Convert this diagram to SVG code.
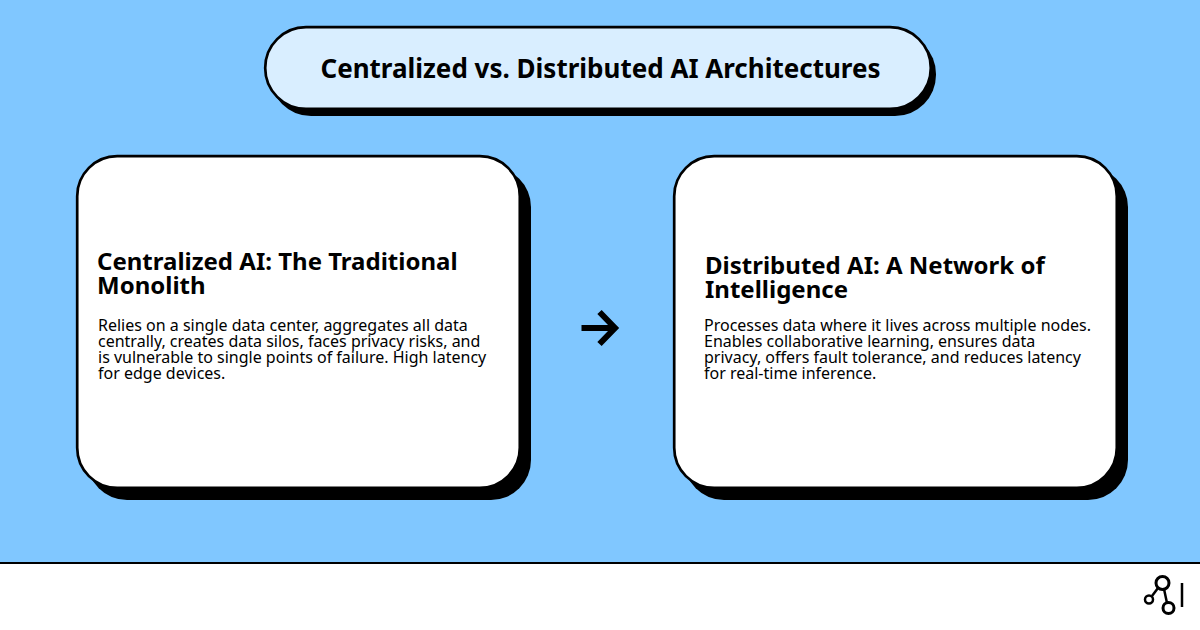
<svg xmlns="http://www.w3.org/2000/svg" width="1200" height="630" viewBox="0 0 1200 630">
<style>
.t{font-family:"Noto Sans",sans-serif;fill:#000}
.h{font-size:24px;font-weight:700}
.b{font-size:16px}
.s{fill:#000}
.c{fill:#fff;stroke:#000;stroke-width:2.700}
</style>
<rect width="1200" height="630" fill="#80c7ff"/>
<g id="footer"><rect y="563" width="1200" height="67" fill="#fff"/><rect y="562" width="1200" height="2" fill="#000"/></g>
<g id="title">
<rect class="s" x="270" y="33" width="666" height="83" rx="41"/>
<rect x="265.200" y="27.200" width="665.600" height="81.600" rx="40.800" fill="#d9eeff" stroke="#000" stroke-width="2.700"/>
<text class="t" x="600.500" y="78" text-anchor="middle" font-size="26" font-weight="700">Centralized vs. Distributed AI Architectures</text>
</g>
<g id="left-card">
<rect class="s" x="87" y="167" width="444" height="333" rx="40"/>
<rect class="c" x="77.200" y="156.200" width="442.600" height="331.600" rx="40"/>
<text class="t h" x="97" y="270">Centralized AI: The Traditional</text>
<text class="t h" x="97" y="294">Monolith</text>
<text class="t b" x="98" y="331">Relies on a single data center, aggregates all data</text>
<text class="t b" x="98" y="347">centrally, creates data silos, faces privacy risks, and</text>
<text class="t b" x="98" y="363">is vulnerable to single points of failure. High latency</text>
<text class="t b" x="98" y="379">for edge devices.</text>
</g>
<g id="right-card">
<rect class="s" x="684" y="167" width="444" height="333" rx="40"/>
<rect class="c" x="674.200" y="156.200" width="442.600" height="331.600" rx="40"/>
<text class="t h" x="705" y="274">Distributed AI: A Network of</text>
<text class="t h" x="705" y="298">Intelligence</text>
<text class="t b" x="704" y="331">Processes data where it lives across multiple nodes.</text>
<text class="t b" x="704" y="347">Enables collaborative learning, ensures data</text>
<text class="t b" x="704" y="363">privacy, offers fault tolerance, and reduces latency</text>
<text class="t b" x="704" y="379">for real-time inference.</text>
</g>
<g id="connectors" fill="none" stroke="#000">
<path d="M581.500 328H614" stroke-width="6"/>
<path d="M599.500 312L615 328L599.500 344" stroke-width="6"/>
</g>
<g id="logo" fill="none" stroke="#000">
<circle cx="1162.500" cy="583" r="6.500" stroke-width="3"/>
<circle cx="1168.500" cy="608" r="5.500" stroke-width="3"/>
<circle cx="1149" cy="599.500" r="4" stroke-width="2.500"/>
<path d="M1158 588L1152 596M1164 589L1167 603" stroke-width="2.500"/>
<path d="M1182 583V607" stroke-width="2.500"/>
</g>
</svg>
